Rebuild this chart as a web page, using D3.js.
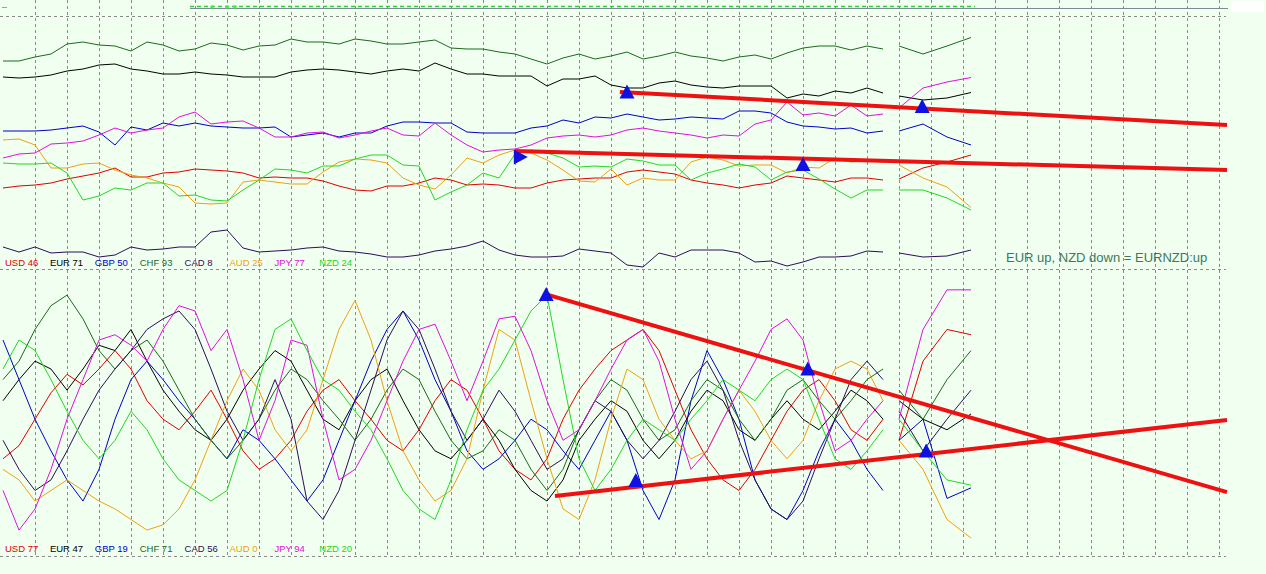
<!DOCTYPE html>
<html><head><meta charset="utf-8">
<script src="https://cdn.jsdelivr.net/npm/d3@7"></script>
<style>html,body{margin:0;padding:0;background:#f0fff0;overflow:hidden}svg{display:block}</style>
</head><body>
<svg id="c" width="1266" height="574"></svg>
<script>
const currencies = ["USD","EUR","GBP","CHF","CAD","AUD","JPY","NZD"];
const colors = ["#e00000","#000000","#0000c8","#1a6a1a","#2c0c58","#f0a010","#e010e0","#22d822"];
// bar index of every sample (null sample = gap in the data)
const bars = [0,2,4,6,8,10,12,14,16,18,20,22,24,26,28,30,32,34,36,38,40,42,44,46,48,50,52,54,56,58,60,62,64,66,68,70,72,74,76,78,80,82,84,86,88,90,92,94,96,98,100,102,104,106,108,110,111,112,115,118,121];

// top panel (strength, 0..100)
const topUSD = [32.8,33.6,34,34.8,36.4,37.6,38.8,40.8,37.2,37.2,38.8,39.2,40.4,40,39.6,38.8,36.8,37.2,36.8,36.8,35.6,33.6,32,31.6,33.6,33.6,34.8,36.8,36,34,34.4,34,32.8,32.8,34.8,36,36.4,36.8,36.8,39.2,40,39.2,38.4,36,34.8,34,32.8,34,34.8,37.6,36.8,36,35.2,36.8,36.8,36,null,36.4,40.8,43.2,46];
const topEUR = [77.2,76.8,77.2,78,79.6,80.4,82,82.4,80.4,79.6,78.4,78.4,79.2,78.4,78,77.2,77.2,77.2,79.2,80,80.4,80,79.2,78.4,79.6,80.4,79.6,82.8,80.4,78.4,78.4,77.6,77.6,77.6,73.6,76.4,76.4,77.6,74,72.8,72.8,74.8,75.6,74,73.2,72.8,73.6,73.6,73.6,68.8,70.4,69.6,71.6,70.8,72.8,70.8,null,69.6,68,68.8,71];
const topGBP = [55.6,55.6,55.6,56,56.8,57.6,55.2,50,57.2,56,58.8,57.6,58.8,57.6,57.2,56.8,56.8,57.2,53.2,54,54.8,53.2,54.8,54.8,57.6,59.2,59.2,58.8,58.8,55.2,54.8,54.8,54.8,56.8,57.6,60,58.8,61.2,60.8,62.4,61.2,60,60.4,61.2,60.8,60.4,63.6,63.6,62.8,59.2,57.6,57.2,56.4,56.8,54.8,55.6,null,55.6,58.4,53.2,50];
const topCHF = [83.6,83.6,85.2,86.4,90.4,91.2,90,89.6,87.6,91.2,90,87.6,88.4,90.8,90,88,89.6,90,92.4,91.2,91.2,90.4,92.4,91.6,90.4,90.4,91.2,92,88.8,88.4,88.4,87.2,86.4,84.4,82.4,84.8,86.4,84.4,85.6,87.2,84.4,85.6,87.2,85.6,84.8,83.6,85.2,86,84.4,86.8,88.8,89.6,89.6,88,89.6,88.4,null,89.6,86.4,89.6,93];
const topCAD = [9.2,7.2,9.2,6.8,7.2,7.2,5.2,6,9.2,8,8.4,9.2,9.2,15.2,16,8.8,7.2,7.6,8,8.8,9.2,7.6,7.2,6.4,5.2,5.2,6,7.6,8.4,9.6,11.6,8,6,5.2,5.2,5.6,8.4,7.6,6.8,2,1.2,6.8,5.2,8,8,8,6.8,3.2,3.6,1.6,3.2,5.2,5.2,5.6,7.6,7.2,null,6.8,5.2,5.6,8];
const topAUD = [52,52.4,50,40.8,40.8,42.4,42.8,40,38,36.8,34.8,33.2,26.8,26.4,26.8,35.2,36,35.2,34.4,34.4,39.2,43.2,44.4,44,42.8,36.8,34,32.4,38,44.8,42.8,46,48,46.8,44,40,35.6,35.2,40.4,34,36.8,36,36,43.2,45.2,44,41.6,42,42,38.8,41.2,40.8,44.8,43.2,43.6,43.2,null,42,36.8,33.2,25];
const topJPY = [44.8,46.4,46.8,50.4,50.8,51.6,54,56.8,54.8,56,56.8,61.2,63.2,58.4,59.2,59.6,56.8,53.2,53.2,54.8,55.2,52.8,54,55.6,56.8,54,53.6,58.8,54,50,47.2,48,48.4,50,52.8,53.6,54,53.2,54,56,56.8,55.6,54.8,54,52.8,54,53.6,58.4,60,67.2,62,62.8,61.6,66,61.6,62.4,null,64.8,72.8,75.2,77];
const topNZD = [42.8,42.4,42.4,42.8,38.8,28,29.6,32.8,32,34.8,34.8,29.6,30,28,27.6,32,36,40.4,40,38.8,41.6,41.6,44.4,46,46,42,41.6,28,31.2,34,38.8,36.8,46.4,48,46.8,44.8,41.2,41.6,41.2,44.4,43.6,42,42,36,38.8,40.4,42.4,41.2,36,39.2,40,36.4,32.4,28.8,32,32,null,32,32,28.8,24];

// bottom panel (oscillator, 0..100)
const botUSD = [30,35,45,55,62,58,64,71,64,52,45,41,48,56,45,33,26,30,37,48,56,60,52,45,37,33,41,52,60,56,45,33,26,22,30,45,56,64,71,75,79,71,56,41,30,22,18,26,37,48,56,60,52,41,37,45,null,37,67,79,77];
const botEUR = [52,60,67,64,56,64,73,71,79,67,56,48,41,37,45,56,64,71,67,56,45,41,52,60,64,52,41,33,30,37,45,37,26,18,14,22,37,45,52,48,37,30,37,48,56,52,41,37,45,52,45,41,48,56,52,45,null,52,45,41,47];
const botGBP = [75,60,45,33,22,14,26,45,60,67,60,52,45,37,30,41,37,30,22,14,22,37,52,67,79,86,75,60,48,33,26,30,37,45,41,33,26,37,48,37,18,7,22,52,71,60,45,22,11,7,18,33,45,37,26,18,null,37,45,15,19];
const botCHF = [60,67,79,88,92,83,71,64,71,75,67,56,45,37,30,37,45,56,64,60,52,45,37,45,56,64,60,48,37,30,33,41,37,26,18,26,41,52,60,56,45,37,41,52,60,56,45,37,45,56,60,52,45,52,60,64,null,56,45,60,71];
const botCAD = [37,26,18,22,33,45,56,64,71,79,83,86,79,64,48,37,45,60,45,14,7,18,37,56,75,86,79,64,48,37,45,56,48,37,26,30,41,52,48,37,30,37,48,60,67,56,37,22,11,7,14,30,45,60,67,60,null,48,33,45,56];
const botAUD = [26,22,14,18,22,18,14,11,7,3,5,11,22,37,52,64,56,41,33,41,60,79,90,75,52,33,22,14,18,30,56,79,75,52,30,11,7,22,45,64,60,45,37,30,33,45,56,48,37,30,37,52,64,67,64,52,null,37,26,7,0];
const botJPY = [18,3,11,26,45,60,75,77,73,67,79,88,86,71,79,60,37,52,75,73,45,22,26,37,52,67,79,81,67,52,67,83,84,71,52,37,41,52,64,75,79,67,45,26,33,45,56,67,79,83,75,52,33,37,45,52,null,45,79,94,94];
const botNZD = [64,75,71,60,48,37,30,37,48,41,30,22,18,14,18,37,60,79,83,71,60,56,48,41,30,18,11,7,22,41,56,64,75,86,92,60,30,18,26,37,45,41,37,45,52,60,56,52,60,64,60,45,30,26,33,41,null,45,33,22,20];

const topLast = [46,71,50,93,8,25,77,24];
const botLast = [77,47,19,71,56,0,94,20];

// annotations: trend lines and arrows in (bar, value) coordinates
const topTrend = [[77.1,71.2,153,58],[64,47.6,153,40]];
const botTrend = [[67.8,92.4,153,17.4],[69,15.9,153,44.7]];
const topArrows = [[78,71,0],[114.9,65.2,0],[100,42,0],[64.6,45.2,90]];
const botArrows = [[67.9,92,0],[100.6,63.8,0],[79.1,21.6,0],[115.4,32.8,0]];
const note = "EUR up, NZD down = EURNZD:up";

const svg = d3.select("#c");
const W = 1266, H = 574;
svg.append("rect").attr("width",W).attr("height",H).attr("fill","#f0fff0");

const x = d3.scaleLinear().domain([0,153]).range([3,1227]);
const yTop = d3.scaleLinear().domain([0,100]).range([270,20]);
const yBot = d3.scaleLinear().domain([0,100]).range([538,274]);

// grid
const grid = svg.append("g").attr("stroke","#8a8a8a").attr("stroke-width",1).attr("stroke-dasharray","3,3").attr("shape-rendering","crispEdges");
d3.range(4,153,4).forEach(b=>{
  grid.append("line").attr("x1",Math.round(x(b))+0.5).attr("x2",Math.round(x(b))+0.5).attr("y1",0).attr("y2",556);
});
[16,269,556].forEach(yy=>{
  grid.append("line").attr("x1",0).attr("x2",1226).attr("y1",yy+0.5).attr("y2",yy+0.5);
});

// top status lines
svg.append("line").attr("x1",2).attr("x2",7).attr("y1",7.5).attr("y2",7.5).attr("stroke","#9aa0a0").attr("stroke-width",1);
svg.append("line").attr("x1",190).attr("x2",1228).attr("y1",8.5).attr("y2",8.5).attr("stroke","#7a8a96").attr("stroke-width",1);
svg.append("line").attr("x1",190).attr("x2",975).attr("y1",6.5).attr("y2",6.5).attr("stroke","#33cc33").attr("stroke-width",1.5).attr("stroke-dasharray","4,3");
[212,227,235].forEach(px=>svg.append("circle").attr("cx",px).attr("cy",7).attr("r",1.8).attr("fill","#44ee44"));
svg.append("rect").attr("x",1231).attr("y",1).attr("width",33).attr("height",11).attr("fill","#ffffff");

function drawPanel(series, y){
  series.forEach((vals,i)=>{
    if(!vals.length) return;
    const pts = vals.map((v,k)=>[bars[k],v]);
    const line = d3.line().defined(d=>d[1]!=null).x(d=>x(d[0])).y(d=>y(d[1]));
    svg.append("path").attr("d",line(pts)).attr("fill","none").attr("stroke",colors[i]).attr("stroke-width",1).attr("stroke-linejoin","round");
  });
}
drawPanel([topUSD,topEUR,topGBP,topCHF,topCAD,topAUD,topJPY,topNZD], yTop);
drawPanel([botUSD,botEUR,botGBP,botCHF,botCAD,botAUD,botJPY,botNZD], yBot);

function drawTrends(tr, y){
  tr.forEach(t=>{
    svg.append("line").attr("x1",x(t[0])).attr("y1",y(t[1])).attr("x2",x(t[2])).attr("y2",y(t[3]))
      .attr("stroke","#ee1111").attr("stroke-width",4);
  });
}
drawTrends(topTrend, yTop);
drawTrends(botTrend, yBot);

function drawArrows(ar, y){
  ar.forEach(a=>{
    svg.append("path").attr("d","M0,-8L7.5,6L-7.5,6Z")
      .attr("transform",`translate(${x(a[0])},${y(a[1])}) rotate(${a[2]})`)
      .attr("fill","#1010e0");
  });
}
drawArrows(topArrows, yTop);
drawArrows(botArrows, yBot);

// legends
function legend(vals, yy){
  currencies.forEach((c,i)=>{
    svg.append("text").attr("x",5+44.9*i).attr("y",yy).attr("fill",colors[i])
      .attr("font-family","Liberation Sans, Arial, sans-serif").attr("font-size",9.5)
      .text(c+" "+vals[i]);
  });
}
legend(topLast, 266);
legend(botLast, 552);

svg.append("text").attr("x",1006).attr("y",262).attr("fill","#3a7a5a")
  .attr("font-family","Liberation Sans, Arial, sans-serif").attr("font-size",13).text(note);
</script>
</body></html>
